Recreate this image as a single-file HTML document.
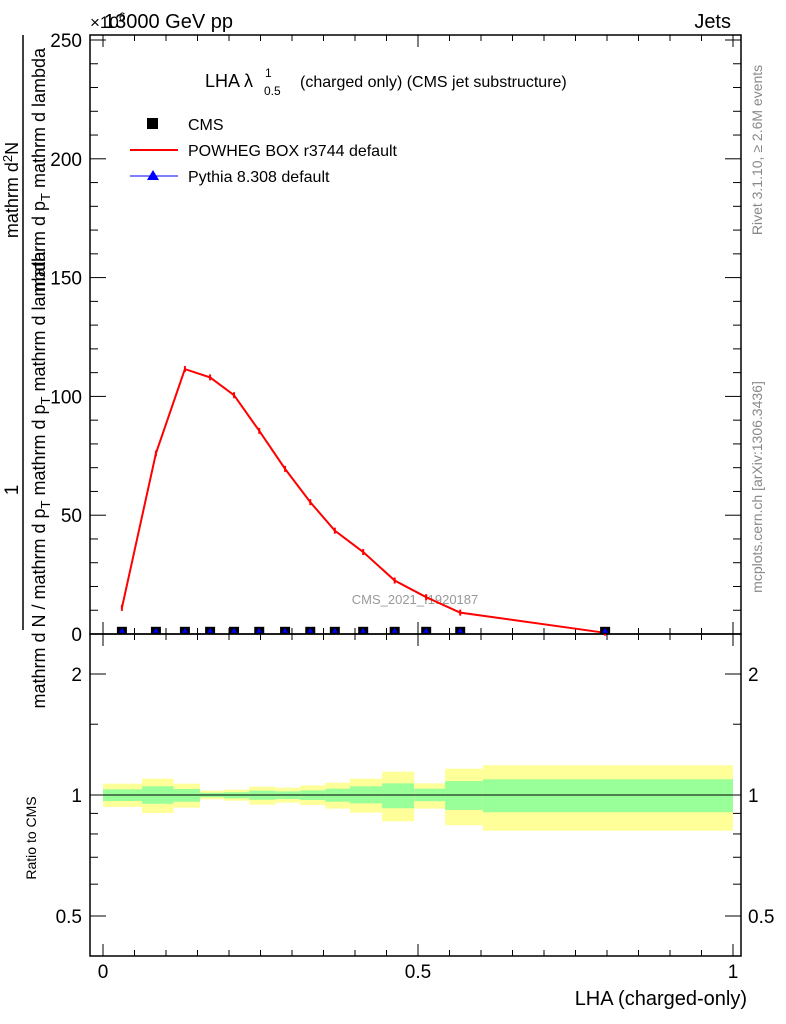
<!DOCTYPE html>
<html><head><meta charset="utf-8"><style>
body{margin:0;background:#fff}
svg{display:block;font-family:"Liberation Sans",Arial,sans-serif}
</style></head><body>
<svg id="c" width="786" height="1024" viewBox="0 0 786 1024">
<text x="104" y="28" font-size="20">13000 GeV pp</text>
<text x="90" y="28" font-size="17">×10<tspan dy="-7" font-size="12">6</tspan></text>
<text x="731" y="28" font-size="20" text-anchor="end">Jets</text>
<g>
<text x="205" y="87" font-size="18">LHA λ</text>
<text x="264" y="95" font-size="12">0.5</text>
<text x="265" y="77" font-size="12">1</text>
<text x="300" y="87" font-size="16">(charged only) (CMS jet substructure)</text>
</g>
<g>
<rect x="147" y="118" width="11" height="11" fill="#000"/>
<text x="188" y="130" font-size="16">CMS</text>
<line x1="130" y1="150" x2="178" y2="150" stroke="red" stroke-width="2"/>
<text x="188" y="156" font-size="16">POWHEG BOX r3744 default</text>
<line x1="130" y1="176" x2="178" y2="176" stroke="blue" stroke-width="1"/>
<polygon points="153,170 159,180 147,180" fill="blue"/>
<text x="188" y="182" font-size="16">Pythia 8.308 default</text>
</g>
<text x="415" y="604" font-size="13" fill="#999" text-anchor="middle">CMS_2021_I1920187</text>
<text transform="translate(762,150) rotate(-90)" font-size="14" fill="#888" text-anchor="middle">Rivet 3.1.10, ≥ 2.6M events</text>
<text transform="translate(762,487) rotate(-90)" font-size="14" fill="#888" text-anchor="middle">mcplots.cern.ch [arXiv:1306.3436]</text>
<g>
<text transform="translate(18,490) rotate(-90)" font-size="19" text-anchor="middle">1</text>
<line x1="23" y1="330" x2="23" y2="630" stroke="#000" stroke-width="1.5"/>
<text transform="translate(45,480) rotate(-90)" font-size="18" text-anchor="middle">mathrm d N / mathrm d p<tspan font-size="13" dy="5">T</tspan><tspan dy="-5"> mathrm d p</tspan><tspan font-size="13" dy="5">T</tspan><tspan dy="-5"> mathrm d lambda</tspan></text>
<text transform="translate(18,190) rotate(-90)" font-size="18" text-anchor="middle">mathrm d<tspan font-size="13" dy="-6">2</tspan><tspan dy="6">N</tspan></text>
<line x1="23" y1="35" x2="23" y2="330" stroke="#000" stroke-width="1.5"/>
<text transform="translate(45,170) rotate(-90)" font-size="18" text-anchor="middle">mathrm d p<tspan font-size="13" dy="5">T</tspan><tspan dy="-5"> mathrm d lambda</tspan></text>
</g>
<text transform="translate(36,838) rotate(-90)" font-size="14" text-anchor="middle">Ratio to CMS</text>
<text x="747" y="1005" font-size="20" text-anchor="end">LHA (charged-only)</text>
<g id="ratioBands"></g>
<g id="axes"></g>
<g id="series"></g>
</svg>
<script>
const binEdges=[0,0.062,0.112,0.154,0.192,0.232,0.274,0.313,0.353,0.392,0.443,0.494,0.543,0.603,1.0];
const yellowHi=[1.067,1.098,1.067,1.025,1.031,1.049,1.043,1.057,1.073,1.098,1.143,1.069,1.163,1.186];
const yellowLo=[0.934,0.902,0.930,0.976,0.968,0.946,0.957,0.944,0.925,0.904,0.860,0.925,0.841,0.815];
const greenHi=[1.033,1.051,1.035,1.013,1.016,1.025,1.021,1.027,1.037,1.051,1.069,1.037,1.083,1.094];
const greenLo=[0.966,0.951,0.962,0.987,0.981,0.973,0.977,0.972,0.962,0.953,0.927,0.965,0.918,0.906];
const xPoints=[0.030,0.084,0.130,0.170,0.208,0.248,0.289,0.329,0.368,0.413,0.463,0.513,0.567,0.797];
const powheg=[11,76,111.5,108,100.5,85.5,69.5,55.5,43.5,34.5,22.5,15.5,9,0.5];
const cms=[0.5,0.5,0.5,0.5,0.5,0.5,0.5,0.5,0.5,0.5,0.5,0.5,0.5,0.5];
const mainTicks=[0,50,100,150,200,250];
const ratioTicks=[0.5,1,2];
const xTicks=[0,0.5,1];
const xTickLabels=["0","0.5","1"];

const NS="http://www.w3.org/2000/svg";
const X=v=>103+630*v;
const Y=v=>634-2.376*v;
const R=v=>795-121*Math.log2(v);
function mk(tag,attrs,parent){const e=document.createElementNS(NS,tag);for(const k in attrs)e.setAttribute(k,attrs[k]);parent.appendChild(e);return e;}
const bands=document.getElementById('ratioBands');
for(let i=0;i<yellowHi.length;i++){
 const x0=X(binEdges[i]),x1=X(binEdges[i+1]);
 const y=mk('rect',{x:x0,y:R(yellowHi[i]),width:x1-x0,height:R(yellowLo[i])-R(yellowHi[i]),fill:'#ffff99'},bands);
 
 
 const g=mk('rect',{x:x0,y:R(greenHi[i]),width:x1-x0,height:R(greenLo[i])-R(greenHi[i]),fill:'#99ff99'},bands);
 
 
}
const ax=document.getElementById('axes');
const ref=mk('line',{x1:103,y1:795,x2:733,y2:795,stroke:'#000','stroke-width':1},ax);


const f1=mk('rect',{x:90,y:35,width:651,height:599,fill:'none',stroke:'#000','stroke-width':1.5},ax);


const f2=mk('rect',{x:90,y:634,width:651,height:322,fill:'none',stroke:'#000','stroke-width':1.5},ax);


for(let k=0;k<=20;k++){const v=k*0.05,maj=(k%10===0),len=maj?12:6;
 for(const [yb,yt] of [[634,35],[956,634]]){
  mk('line',{x1:X(v),y1:yb,x2:X(v),y2:yb-len,stroke:'#000'},ax);
  mk('line',{x1:X(v),y1:yt,x2:X(v),y2:yt+len,stroke:'#000'},ax);
 }}
xTicks.forEach((v,i)=>{const t=mk('text',{x:X(v),y:978,'font-size':19,'text-anchor':'middle'},ax);t.textContent=xTickLabels[i];
 
 });
for(let v=0;v<=250;v+=10){const len=v%50===0?16:8;
 mk('line',{x1:90,y1:Y(v),x2:90+len,y2:Y(v),stroke:'#000'},ax);
 mk('line',{x1:741,y1:Y(v),x2:741-len,y2:Y(v),stroke:'#000'},ax);}
mainTicks.forEach(v=>{const t=mk('text',{x:82,y:Y(v)+7,'font-size':19,'text-anchor':'end'},ax);t.textContent=v;
 
 });
[0.5,0.6,0.7,0.8,0.9,1,1.5,2].forEach(v=>{const maj=ratioTicks.includes(v),len=maj?16:8;
 mk('line',{x1:90,y1:R(v),x2:90+len,y2:R(v),stroke:'#000'},ax);
 mk('line',{x1:741,y1:R(v),x2:741-len,y2:R(v),stroke:'#000'},ax);});
ratioTicks.forEach(v=>{
 const t=mk('text',{x:82,y:R(v)+7,'font-size':19,'text-anchor':'end'},ax);t.textContent=v;
 
 
 const t2=mk('text',{x:748,y:R(v)+7,'font-size':19},ax);t2.textContent=v;
 
 });
const s=document.getElementById('series');
const pl=mk('polyline',{points:xPoints.map((x,i)=>X(x)+','+Y(powheg[i])).join(' '),fill:'none',stroke:'red','stroke-width':2},s);


xPoints.forEach((x,i)=>{
 const e=mk('line',{x1:X(x),y1:Y(powheg[i])-3,x2:X(x),y2:Y(powheg[i])+3,stroke:'red','stroke-width':2},s);
 
 
 const m=mk('rect',{x:X(x)-5,y:Y(cms[i])-6,width:10,height:7,fill:'#000'},s);
 
 
 const p=mk('polygon',{points:`${X(x)},${Y(cms[i])-5} ${X(x)+3},${Y(cms[i])} ${X(x)-3},${Y(cms[i])}`,fill:'blue'},s);
 
 
});
</script>
</body></html>
